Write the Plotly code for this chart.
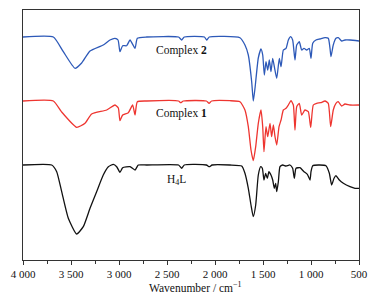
import plotly.graph_objects as go

# Wavenumbers (cm-1) and relative transmittance (arbitrary offset units)
wn_c2 = [4000, 3684, 3580, 3458, 3389, 3302, 3164, 3094, 3042, 3010, 2990, 2962, 2920, 2885, 2833, 2809, 2711,
         2380, 2347, 2320, 2110, 2087, 2060, 1740, 1688, 1653, 1618, 1601, 1583, 1549, 1521, 1503, 1486, 1469,
         1451, 1434, 1417, 1399, 1382, 1357, 1330, 1312, 1288, 1260, 1236, 1212, 1191, 1167, 1149, 1122, 1097,
         1073, 1045, 1018, 1000, 982, 948, 906, 854, 820, 802, 792, 768, 740, 716, 680, 646, 594, 500]
t_c2 = [223, 223, 208.3, 191.7, 197, 209, 215, 220, 221.7, 220, 208.3, 214.3, 214.3, 220, 211.7, 221.7, 223,
        223, 220, 223, 223, 220, 223, 222.3, 215, 205, 178.3, 159, 172, 202, 211, 205, 185, 198.3,
        190, 200, 188.3, 201.7, 193.3, 181.7, 201.7, 193.3, 210, 211.7, 220, 223.3, 220, 200, 215, 218.3, 210,
        211.7, 210, 211.7, 201.7, 216.7, 220, 221, 222.3, 221.7, 211.7, 203.3, 215, 221.7, 222.3, 219, 220, 220, 219]

wn_c1 = [4000, 3684, 3600, 3441, 3354, 3285, 3128, 3042, 3007, 2990, 2962, 2903, 2858, 2833, 2809, 2711,
         2380, 2357, 2330, 2090, 2062, 2035, 1844, 1740, 1688, 1653, 1625, 1601, 1576, 1549, 1521, 1503, 1490,
         1469, 1451, 1427, 1410, 1392, 1375, 1357, 1333, 1312, 1288, 1260, 1236, 1208, 1184, 1167, 1149, 1122,
         1097, 1063, 1028, 1003, 976, 941, 899, 854, 820, 795, 768, 740, 716, 680, 646, 594, 500]
t_c1 = [159, 159, 148.3, 132.7, 136.7, 146, 150, 155, 152, 139.3, 145, 147.3, 155, 145, 158.3, 159,
        159, 157.3, 159, 159, 156.7, 159, 159.3, 158.3, 150, 133.3, 110, 99.3, 113.3, 136.7, 150, 133.3, 108.3,
        133.3, 123.3, 136.7, 123.3, 135, 123.3, 115, 133.3, 140, 150, 151.7, 155, 159.3, 155, 130, 153.3, 156.7,
        145, 150, 148.3, 132.7, 155, 156.7, 157.3, 159, 156.7, 133.3, 150, 156.7, 158.3, 154, 156, 155, 155]

wn_l = [4000, 3701, 3649, 3597, 3528, 3441, 3372, 3302, 3233, 3164, 3111, 3059, 3024, 2990, 2962, 2885, 2833,
        2799, 2711, 2380, 2347, 2320, 2090, 2059, 2030, 1844, 1722, 1688, 1653, 1625, 1601, 1576, 1549, 1524,
        1507, 1490, 1472, 1455, 1438, 1417, 1399, 1382, 1368, 1357, 1340, 1323, 1295, 1260, 1219, 1191, 1174,
        1156, 1115, 1073, 1038, 1010, 1000, 982, 924, 844, 809, 785, 760, 740, 705, 663, 594, 542, 500]
t_l = [95, 95, 88.3, 68.3, 41.7, 26, 33.3, 51.7, 68.3, 85, 93.3, 95.7, 93.3, 87.7, 92.3, 93.3, 90,
       95, 95, 95, 91.7, 95, 95, 93.3, 95, 95, 94, 86.7, 71.7, 55, 43.3, 55, 85, 93.3,
       91.7, 80, 86.7, 81.7, 88.3, 85, 80, 71.7, 76.7, 68.3, 78.3, 93.3, 95, 94, 95, 91.7, 81.7,
       91.7, 92.3, 88.3, 85.7, 80, 88.3, 94.3, 95, 94.3, 86.7, 75, 81.7, 84.3, 80, 76.7, 73.3, 71.7, 71.7]

tick_vals = [4000, 3500, 3000, 2500, 2000, 1500, 1000, 500]
tick_text = ["4 000", "3 500", "3 000", "2 500", "2 000", "1 500", "1 000", "500"]

series_names = ["Complex 2", "Complex 1", "H4L"]
series_colors = ["#2d59b8", "#ee3530", "#111111"]

fig = go.Figure()
for wn, t, name, col in zip([wn_c2, wn_c1, wn_l], [t_c2, t_c1, t_l], series_names, series_colors):
    fig.add_trace(go.Scatter(x=wn, y=t, mode="lines", name=name,
                             line=dict(color=col, width=1.3, shape="spline", smoothing=0.5),
                             showlegend=False, hoverinfo="skip"))

font_serif = "Liberation Serif, Times New Roman, serif"
labels = [("Complex <b>2</b>", 2354, 210), ("Complex <b>1</b>", 2345, 147), ("H<sub>4</sub>L", 2399, 80)]
for txt, x, y in labels:
    fig.add_annotation(x=x, y=y, text=txt, showarrow=False,
                       font=dict(family=font_serif, size=11.5, color="#111111"))

# x-axis title placed close under the tick labels, as in the reference
fig.add_annotation(x=0.512, y=-0.074, xref="paper", yref="paper", yanchor="top",
                   text="Wavenumber / cm<sup>−1</sup>", showarrow=False, borderpad=0,
                   font=dict(family=font_serif, size=11.5, color="#111111"))

# page body adds an 8px offset; margins compensate so the frame sits at x 23-359, y 10-260
fig.update_layout(
    width=374, height=291,
    margin=dict(l=15, r=23, t=2, b=39),
    paper_bgcolor="white", plot_bgcolor="white",
    font=dict(family=font_serif, size=11, color="#111111"),
)
fig.update_xaxes(range=[4000, 500], tickvals=tick_vals, ticktext=tick_text,
                 ticks="outside", ticklen=4, tickwidth=1, tickcolor="#333",
                 minor=dict(dtick=250, ticks="outside", ticklen=2.5, tickwidth=1, tickcolor="#333"),
                 showline=True, linecolor="#333", linewidth=1, mirror=True,
                 showgrid=False, zeroline=False,
                 tickfont=dict(family=font_serif, size=11))
fig.update_yaxes(range=[0, 250], showticklabels=False, ticks="",
                 showline=True, linecolor="#333", linewidth=1, mirror=True,
                 showgrid=False, zeroline=False)

fig.write_html("out.html")
